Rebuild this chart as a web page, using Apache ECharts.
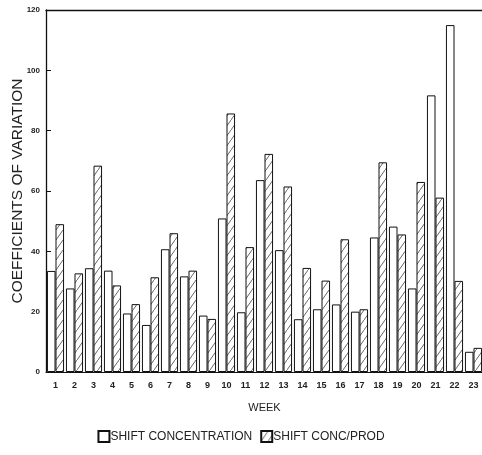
<!DOCTYPE html>
<html>
<head>
<meta charset="utf-8">
<script src="https://cdn.jsdelivr.net/npm/echarts@6/dist/echarts.min.js"></script>
<style>html,body{margin:0;padding:0;background:#fff}#c{width:482px;height:455px}</style>
</head>
<body>
<div id="c"></div>
<script>
const weeks = ['1','2','3','4','5','6','7','8','9','10','11','12','13','14','15','16','17','18','19','20','21','22','23'];
const shiftConcentration = [33.5,27.7,34.4,33.6,19.4,15.6,40.7,31.7,18.7,50.9,19.8,63.6,40.4,17.5,20.8,22.4,20,44.6,48.2,27.7,91.7,115,6.7];
const shiftConcProd = [49,32.7,68.4,28.7,22.5,31.4,46,33.6,17.6,85.7,41.4,72.3,61.5,34.5,30.3,44,20.8,69.5,45.6,63,57.8,30.2,8];
const yTicks = [0,20,40,60,80,100,120];

function hatch(){
  const c = document.createElement('canvas');
  c.width = 7; c.height = 10;
  const g = c.getContext('2d');
  g.fillStyle = '#fff'; g.fillRect(0,0,7,10);
  g.strokeStyle = '#555'; g.lineWidth = 0.9;
  g.beginPath(); g.moveTo(-1,11.4); g.lineTo(8,-1.4); g.stroke();
  return c;
}
const pattern = {image: hatch(), repeat: 'repeat'};
const font = '"Liberation Sans", Arial, sans-serif';

const chart = echarts.init(document.getElementById('c'));
chart.setOption({
  animation: false,
  backgroundColor: '#fff',
  grid: {left: 46, top: 10, width: 437, height: 362, containLabel: false, outerBoundsMode: 'none'},
  legend: {
    bottom: 7, left: 'center', itemGap: 8, itemWidth: 11, itemHeight: 11, icon: 'rect',
    textStyle: {fontFamily: font, fontSize: 12, color: '#222', padding: [0,0,0,-4]},
    data: ['SHIFT CONCENTRATION','SHIFT CONC/PROD']
  },
  xAxis: [{
    type: 'category', data: weeks, name: 'WEEK', nameLocation: 'middle', nameGap: 30,
    nameTextStyle: {fontFamily: font, fontSize: 11, color: '#222'},
    axisLine: {lineStyle: {color: '#111', width: 1}},
    axisTick: {show: false},
    axisLabel: {fontFamily: font, fontSize: 9, color: '#222', margin: 9, fontWeight: 'bold'}
  },{
    type: 'category', data: weeks, position: 'top',
    axisLine: {lineStyle: {color: '#111', width: 1.3}},
    axisTick: {show: false}, axisLabel: {show: false}
  }],
  yAxis: {
    type: 'value', min: 0, max: 120, interval: 20,
    name: 'COEFFICIENTS OF VARIATION', nameLocation: 'middle', nameGap: 20, nameRotate: 90,
    nameMoveOverlap: false,
    nameTextStyle: {fontFamily: font, fontSize: 15.5, color: '#222'},
    axisLine: {show: true, lineStyle: {color: '#111', width: 1.3}},
    axisTick: {show: true, inside: true, length: 5, lineStyle: {color: '#111'}},
    splitLine: {show: false},
    axisLabel: {fontFamily: font, fontSize: 8, color: '#222', fontWeight: 'bold', margin: 6,
      formatter: v => yTicks.includes(v) ? String(v) : ''}
  },
  series: [{
    name: 'SHIFT CONCENTRATION', type: 'bar', data: shiftConcentration,
    barGap: '0%', barCategoryGap: '10%',
    itemStyle: {color: '#fff', borderColor: '#111', borderWidth: 1}
  },{
    name: 'SHIFT CONC/PROD', type: 'bar', data: shiftConcProd,
    itemStyle: {color: pattern, borderColor: '#111', borderWidth: 1}
  }]
});
</script>
</body>
</html>
